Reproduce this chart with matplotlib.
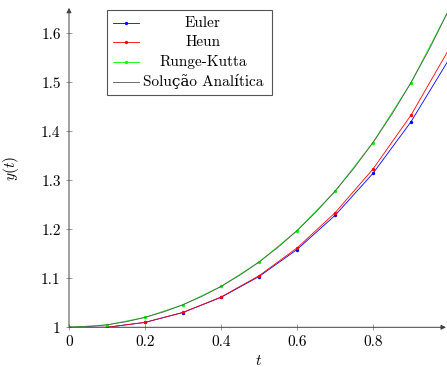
import matplotlib
matplotlib.use('Agg')
import matplotlib.pyplot as plt
from matplotlib.lines import Line2D
from matplotlib.patches import Rectangle

# (step h = 0.1)
t = [0.0, 0.1, 0.2, 0.3, 0.4, 0.5, 0.6, 0.7, 0.8, 0.9, 1.0]
euler = [1.0, 1.0, 1.0100, 1.0302, 1.0611, 1.1036, 1.1587, 1.2283, 1.3142,
         1.4194, 1.5471]
heun = [1.0, 1.0, 1.0101, 1.0305, 1.0618, 1.1052, 1.1618, 1.2336, 1.3230,
        1.4330, 1.5678]
rk = [1.0, 1.0050, 1.0202, 1.0460, 1.0833, 1.1331, 1.1972, 1.2776, 1.3771,
      1.4993, 1.6487]
# analytic curve, finer step
t_an = [0.0, 0.05, 0.1, 0.15, 0.2, 0.25, 0.3, 0.35, 0.4, 0.45, 0.5, 0.55,
        0.6, 0.65, 0.7, 0.75, 0.8, 0.85, 0.9, 0.95, 1.0]
y_an = [1.0, 1.00125, 1.00501, 1.01131, 1.02020, 1.03174, 1.04603, 1.06317,
        1.08329, 1.10655, 1.13315, 1.16329, 1.19722, 1.23522, 1.27762,
        1.32478, 1.37713, 1.43512, 1.49930, 1.57027, 1.64872]

xticks = [0, 0.2, 0.4, 0.6, 0.8, 1.0]
xticklabels = ['0', '0.2', '0.4', '0.6', '0.8', '1']
yticks = [1.0, 1.1, 1.2, 1.3, 1.4, 1.5, 1.6]
yticklabels = ['1', '1.1', '1.2', '1.3', '1.4', '1.5', '1.6']

labels = ['Euler', 'Heun', 'Runge-Kutta', 'Solução Analítica']
colors = ['blue', 'red', 'lime', '#555555']

plt.rcParams['font.family'] = ['cmr10', 'DejaVu Serif']
plt.rcParams['mathtext.fontset'] = 'cm'
plt.rcParams['axes.formatter.use_mathtext'] = True
plt.rcParams['font.size'] = 11

W, H = 447, 367
fig = plt.figure(figsize=(W / 100, H / 100), dpi=100)
ax = fig.add_axes([69 / W, (H - 327.3) / H, 380 / W, 318.5 / H])

lw = 0.6
ms = 1.4
ax.plot(t, euler, color=colors[0], lw=lw, marker='o', ms=ms)
ax.plot(t, heun, color=colors[1], lw=lw, marker='o', ms=ms)
ax.plot(t, rk, color=colors[2], lw=lw, marker='o', ms=ms)
ax.plot(t_an, y_an, color=colors[3], lw=0.6)

ax.set_xlim(0, 1.0)
ax.set_ylim(1.0, 1.65)
ax.set_xticks(xticks)
ax.set_xticklabels(xticklabels)
ax.set_yticks(yticks)
ax.set_yticklabels(yticklabels)

for s in ['top', 'right', 'left', 'bottom']:
    ax.spines[s].set_visible(False)
ax.tick_params(direction='inout', length=4, width=0.5, color='#777777')
ax.tick_params(axis='x', pad=4)
ax.tick_params(axis='y', pad=4)

# pgfplots style axis arrows
arr = dict(arrowstyle='-|>', color='#404040', lw=0.7,
           mutation_scale=7, shrinkA=0, shrinkB=0)
ax.annotate('', xy=(0.992, 0), xytext=(0, 0), xycoords='axes fraction',
            arrowprops=arr, annotation_clip=False)
ax.annotate('', xy=(0, 1.003), xytext=(0, 0), xycoords='axes fraction',
            arrowprops=arr, annotation_clip=False)

ax.set_xlabel('$t$')
ax.set_ylabel('$y(t)$')
ax.xaxis.set_label_coords(0.5, -0.084)
ax.yaxis.set_label_coords(-0.126, 0.5)

# legend drawn by hand (centered entries like pgfplots)
def px(x, y):
    return x / W, 1 - y / H

x0, y0 = px(107, 95)
x1, y1 = px(272, 10)
fig.patches.append(Rectangle((x0, y0), x1 - x0, y1 - y0,
                             transform=fig.transFigure, fill=True,
                             facecolor='white', edgecolor='#555555', lw=0.8,
                             zorder=5))
rows = [23, 42.3, 62, 81.7]
for i, (lab, c) in enumerate(zip(labels, colors)):
    ya = rows[i]
    xa, yb = px(113, ya)
    xb, _ = px(139, ya)
    xm, _ = px(126, ya)
    fig.add_artist(Line2D([xa, xb], [yb, yb], color=c, lw=0.6,
                          transform=fig.transFigure, zorder=6))
    if i < 3:
        fig.add_artist(Line2D([xm], [yb], color=c, marker='o', ms=ms,
                              transform=fig.transFigure, zorder=6))
    tx, ty = px(203, ya)
    fig.text(tx, ty, lab, ha='center', va='center', zorder=7)

fig.savefig('out.png', dpi=100)
